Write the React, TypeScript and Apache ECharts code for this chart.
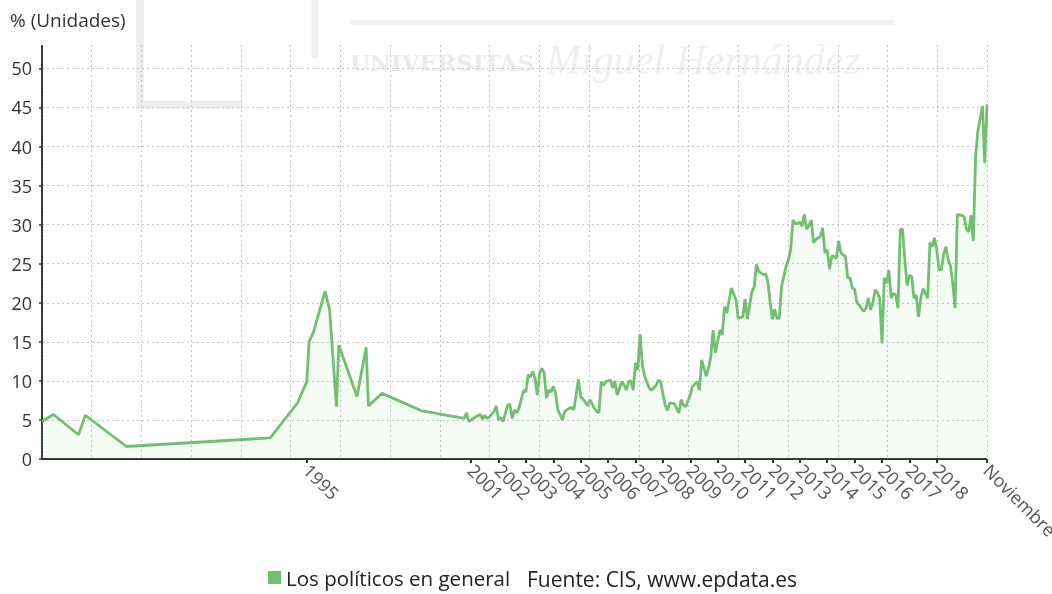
import React, { useEffect, useRef } from "react";
import * as echarts from "echarts";

// X range (first and last survey)
const startMonth = "1985-05";
const endMonth = "2019-11";

// Label ticks on the x axis
const yearTicks = [1995, 2001, 2002, 2003, 2004, 2005, 2006, 2007, 2008, 2009, 2010, 2011, 2012, 2013, 2014, 2015, 2016, 2017, 2018];
const lastLabel = "Noviembre";

// Series: "Los políticos en general" (% of respondents)
const dates1985_2000 = ["1985-05", "1985-10", "1986-09", "1986-12", "1988-06", "1993-09", "1994-09", "1995-01", "1995-02", "1995-04", "1995-09", "1995-11", "1996-02", "1996-03", "1996-11", "1997-03", "1997-04", "1997-10", "1999-03", "2000-10", "2000-11", "2000-12"];
const values1985_2000 = [4.8, 5.7, 3.1, 5.6, 1.6, 2.7, 7.2, 9.9, 15.0, 16.3, 21.5, 19.1, 6.7, 14.6, 8.0, 14.3, 6.8, 8.4, 6.2, 5.2, 5.9, 4.8];

const dates2001_2009 = [
  "2001-01", "2001-03", "2001-05", "2001-06", "2001-07", "2001-08", "2001-09", "2001-11", "2001-12",
  "2002-01", "2002-02", "2002-03", "2002-05", "2002-06", "2002-07", "2002-08", "2002-09", "2002-10", "2002-12",
  "2003-01", "2003-02", "2003-03", "2003-04", "2003-05", "2003-06", "2003-07", "2003-08", "2003-09", "2003-10", "2003-11", "2003-12",
  "2004-01", "2004-02", "2004-03", "2004-05", "2004-06", "2004-08", "2004-09", "2004-10", "2004-12",
  "2005-01", "2005-03", "2005-04", "2005-05", "2005-07", "2005-08", "2005-09", "2005-10", "2005-11", "2005-12",
  "2006-02", "2006-03", "2006-04", "2006-05", "2006-07", "2006-08", "2006-09", "2006-10", "2006-11", "2006-12",
  "2007-01", "2007-02", "2007-03", "2007-04", "2007-05", "2007-07", "2007-08", "2007-10", "2007-11", "2007-12",
  "2008-01", "2008-02", "2008-03", "2008-04", "2008-06", "2008-07", "2008-08", "2008-09", "2008-10", "2008-11",
  "2009-01", "2009-02", "2009-04", "2009-05", "2009-06", "2009-08", "2009-09", "2009-10", "2009-11", "2009-12",
];
const values2001_2009 = [
  5.0, 5.4, 5.7, 5.1, 5.6, 5.2, 5.4, 6.1, 6.8,
  5.0, 5.3, 4.8, 6.9, 7.0, 5.2, 6.3, 5.9, 6.5, 8.8,
  8.6, 10.8, 10.5, 11.2, 10.3, 8.2, 11.0, 11.6, 11.0, 7.8, 8.8, 8.6,
  9.3, 8.4, 6.3, 5.0, 6.1, 6.5, 6.6, 6.3, 10.2,
  8.0, 7.3, 6.8, 7.6, 6.5, 6.1, 5.9, 9.9, 9.4, 9.9,
  10.1, 9.1, 10.0, 8.2, 9.9, 9.5, 8.8, 9.9, 10.0, 8.8,
  12.3, 11.4, 16.0, 12.1, 10.6, 9.1, 8.8, 9.4, 10.1, 9.9,
  8.4, 6.9, 6.2, 7.2, 7.1, 6.5, 5.9, 7.6, 6.9, 6.7,
  8.2, 9.3, 9.9, 8.8, 12.7, 10.6, 11.6, 13.1, 16.5, 13.6,
];

const dates2010_2019 = [
  "2010-02", "2010-03", "2010-04", "2010-05", "2010-07", "2010-09", "2010-10", "2010-12",
  "2011-01", "2011-02", "2011-04", "2011-05", "2011-06", "2011-07", "2011-09", "2011-10", "2011-11", "2011-12",
  "2012-01", "2012-02", "2012-03", "2012-04", "2012-05", "2012-07", "2012-08", "2012-09", "2012-10", "2012-11",
  "2013-01", "2013-02", "2013-03", "2013-04", "2013-05", "2013-06", "2013-07", "2013-08", "2013-10", "2013-11", "2013-12",
  "2014-01", "2014-02", "2014-03", "2014-04", "2014-05", "2014-06", "2014-07", "2014-09", "2014-10", "2014-11", "2014-12",
  "2015-01", "2015-02", "2015-03", "2015-05", "2015-06", "2015-07", "2015-08", "2015-09", "2015-10", "2015-11", "2015-12",
  "2016-01", "2016-02", "2016-03", "2016-04", "2016-05", "2016-06", "2016-07", "2016-08", "2016-09", "2016-10", "2016-11", "2016-12",
  "2017-01", "2017-02", "2017-03", "2017-04", "2017-05", "2017-06", "2017-07", "2017-08", "2017-09", "2017-10", "2017-11", "2017-12",
  "2018-01", "2018-02", "2018-03", "2018-04", "2018-05", "2018-06", "2018-07", "2018-08", "2018-09", "2018-10", "2018-12",
  "2019-01", "2019-02", "2019-03", "2019-04", "2019-05", "2019-06", "2019-07", "2019-09", "2019-10", "2019-11",
];
const values2010_2019 = [
  16.5, 15.9, 19.5, 18.7, 21.9, 20.4, 18.0, 18.2,
  20.5, 17.9, 21.4, 22.0, 24.9, 24.0, 23.6, 23.7, 22.7, 20.0,
  17.9, 19.2, 18.0, 18.0, 22.1, 24.7, 25.5, 26.8, 30.6, 30.1,
  30.3, 29.8, 31.3, 29.4, 29.9, 30.6, 27.7, 28.1, 28.5, 29.6, 26.4,
  26.8, 24.3, 26.0, 25.9, 25.7, 27.9, 26.4, 25.9, 23.2, 23.2, 21.9,
  21.7, 20.0, 19.7, 18.9, 19.3, 20.6, 19.1, 20.0, 21.7, 21.3, 20.6,
  14.8, 23.2, 22.5, 24.2, 20.6, 21.2, 21.0, 19.3, 29.4, 29.4, 25.5, 22.2,
  23.5, 23.4, 20.6, 21.0, 18.2, 20.6, 21.8, 21.2, 20.6, 27.7, 27.2, 28.3,
  26.8, 24.2, 24.2, 26.2, 27.2, 25.5, 24.7, 22.5, 19.3, 31.3, 31.2,
  31.0, 29.4, 29.1, 31.2, 27.9, 38.8, 42.0, 45.2, 37.9, 45.4,
];

const seriesName = "Los políticos en general";
const sourceText = "Fuente: CIS, www.epdata.es";
const yTitle = "% (Unidades)";

const yMin = 0;
const yMax = 53;
const yStep = 5;
const xGridDivisions = 19;

const [sy, sm] = startMonth.split("-").map(Number);
const toOffset = (d: string) => {
  const [y, m] = d.split("-").map(Number);
  return (y - sy) * 12 + (m - sm);
};

export default function App() {
  const ref = useRef<HTMLDivElement>(null);

  useEffect(() => {
    if (!ref.current) return;
    const chart = echarts.init(ref.current, undefined, { renderer: "svg" });

    const allDates = [...dates1985_2000, ...dates2001_2009, ...dates2010_2019];
    const allValues = [...values1985_2000, ...values2001_2009, ...values2010_2019];
    const data = allDates.map((d, i) => [toOffset(d), allValues[i]]);

    const xMin = 0;
    const xMax = toOffset(endMonth);
    const labelValues = [...yearTicks.map((y) => toOffset(`${y}-01`)), xMax];
    const labelFor = (v: number) => {
      if (Math.abs(v - xMax) < 0.01) return lastLabel;
      return String(Math.round(sy + (v + sm - 1) / 12));
    };

    const font = "'Open Sans', 'Noto Sans', sans-serif";
    const green = "#70c070";

    chart.setOption({
      animation: false,
      textStyle: { fontFamily: font },
      grid: { left: 42, right: 65, top: 45, bottom: 135, containLabel: false, outerBoundsMode: "none" },
      legend: {
        data: [seriesName],
        left: 268,
        top: 567,
        padding: 0,
        icon: "rect",
        itemWidth: 13,
        itemHeight: 13,
        itemGap: 6,
        textStyle: { fontSize: 20.5, color: "#222", fontFamily: font },
      },
      xAxis: [
        {
          type: "value",
          min: xMin,
          max: xMax,
          interval: (xMax - xMin) / xGridDivisions,
          axisLine: { show: false },
          axisTick: { show: false },
          axisLabel: { show: false },
          splitLine: { show: true, lineStyle: { color: "#c4c4c4", type: [2, 3], width: 1 } },
        },
        {
          type: "value",
          min: xMin,
          max: xMax,
          position: "bottom",
          axisLine: { show: true, lineStyle: { color: "#333", width: 2, type: [2, 1] } },
          axisTick: { show: true, customValues: labelValues, length: 4, lineStyle: { color: "#333", width: 2 } },
          axisLabel: {
            show: true,
            customValues: labelValues,
            rotate: -45,
            fontSize: 18,
            color: "#555",
            margin: 8,
            hideOverlap: false,
            fontFamily: font,
            formatter: (v: number) => labelFor(v),
          },
          splitLine: { show: false },
        },
      ],
      yAxis: {
        type: "value",
        min: yMin,
        max: yMax,
        interval: yStep,
        axisLine: { show: true, lineStyle: { color: "#333", width: 2, type: [2, 1] } },
        axisTick: { show: true, length: 3, lineStyle: { color: "#333", width: 1.5 } },
        axisLabel: { fontSize: 18, color: "#333", margin: 10, showMaxLabel: false, fontFamily: font },
        splitLine: { show: true, showMaxLine: false, lineStyle: { color: "#c4c4c4", type: [2, 3], width: 1 } },
      },
      graphic: [
        // faint watermark in the background
        { type: "polyline", z: -10, shape: { points: [[140, -5], [140, 105], [242, 105]] }, style: { stroke: "#eeeeee", lineWidth: 8, fill: null } },
        { type: "line", z: -10, shape: { x1: 315, y1: -5, x2: 315, y2: 58 }, style: { stroke: "#f0f0f0", lineWidth: 7 } },
        { type: "rect", z: -10, shape: { x: 350, y: 20, width: 545, height: 5 }, style: { fill: "#f3f3f3" } },
        { type: "text", z: -10, x: 350, y: 62, style: { text: "UNIVERSITAS", fontSize: 23, fontWeight: "bold", fontFamily: "'DejaVu Serif', serif", fill: "#ebebeb", textVerticalAlign: "middle" } },
        { type: "text", z: -10, x: 546, y: 60, style: { text: "Miguel Hernández", fontSize: 42, fontStyle: "italic", fontFamily: "'Liberation Serif', serif", fill: "#efefef", textVerticalAlign: "middle" } },
        { type: "text", left: 10, top: 10, style: { text: yTitle, fontSize: 19, fill: "#333", fontFamily: font } },
        { type: "text", left: 527, top: 568, style: { text: sourceText, fontSize: 21, fill: "#222", fontFamily: font } },
      ],
      series: [
        {
          name: seriesName,
          type: "line",
          xAxisIndex: 0,
          data,
          showSymbol: false,
          symbol: "none",
          color: green,
          lineStyle: { color: green, width: 2.8 },
          areaStyle: { color: "rgba(112,192,112,0.1)" },
        },
      ],
    });

    return () => chart.dispose();
  }, []);

  return <div ref={ref} style={{ position: "fixed", left: 0, top: 0, width: 1052, height: 594 }} />;
}
